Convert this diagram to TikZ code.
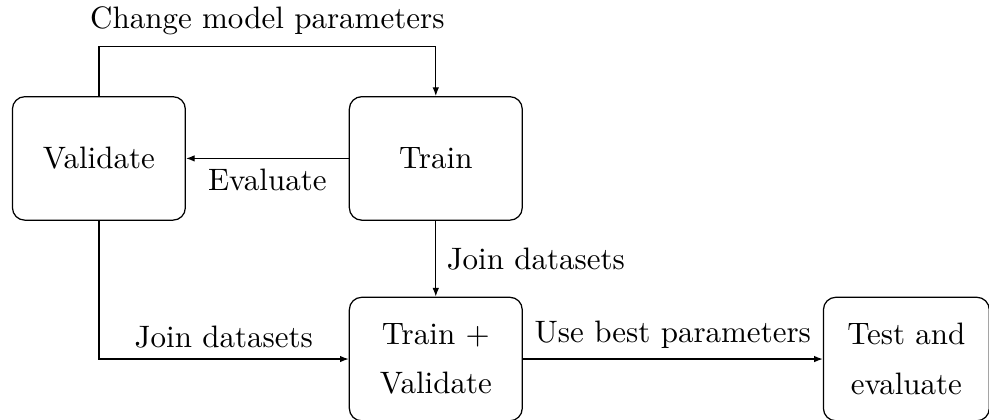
\documentclass[tikz,border=0pt]{standalone}
\usetikzlibrary{positioning, arrows.meta}

\begin{document}
\begin{tikzpicture}[
    node distance=8.6mm and 18.45mm,
    box/.style={draw, rounded corners, align=center, minimum width=1.96cm,
      minimum height=1.4cm},
    arr/.style={-{Latex[length=2.8pt, width=2.1pt]}}]
    \useasboundingbox (-1.121,-2.955) rectangle (10.09,1.796);
    \node[box] (val) at (0,0) {Validate};
    \node[box, right=of val] (train) {Train};
    \node[box, below=of train] (trainval) {Train +\\[4pt] Validate};
    \node[box, right=3.4cm of trainval, minimum width=1.88cm] (test) {Test and\\[4pt] evaluate};
    \draw[arr] (train) -- node[below] {Evaluate} (val);
    \draw[arr] (val.north) -- ++(0,0.566) -| node[pos=0.25, above] {Change model parameters} (train.north);
    \draw[arr] (train) -- node[right] {Join datasets} (trainval);
    \draw[arr] (val.south) |- node[pos=0.75, above] {Join datasets} (trainval.west);
    \draw[arr] (trainval) -- node[above] {Use best parameters} (test);
  \end{tikzpicture}
\end{document}
